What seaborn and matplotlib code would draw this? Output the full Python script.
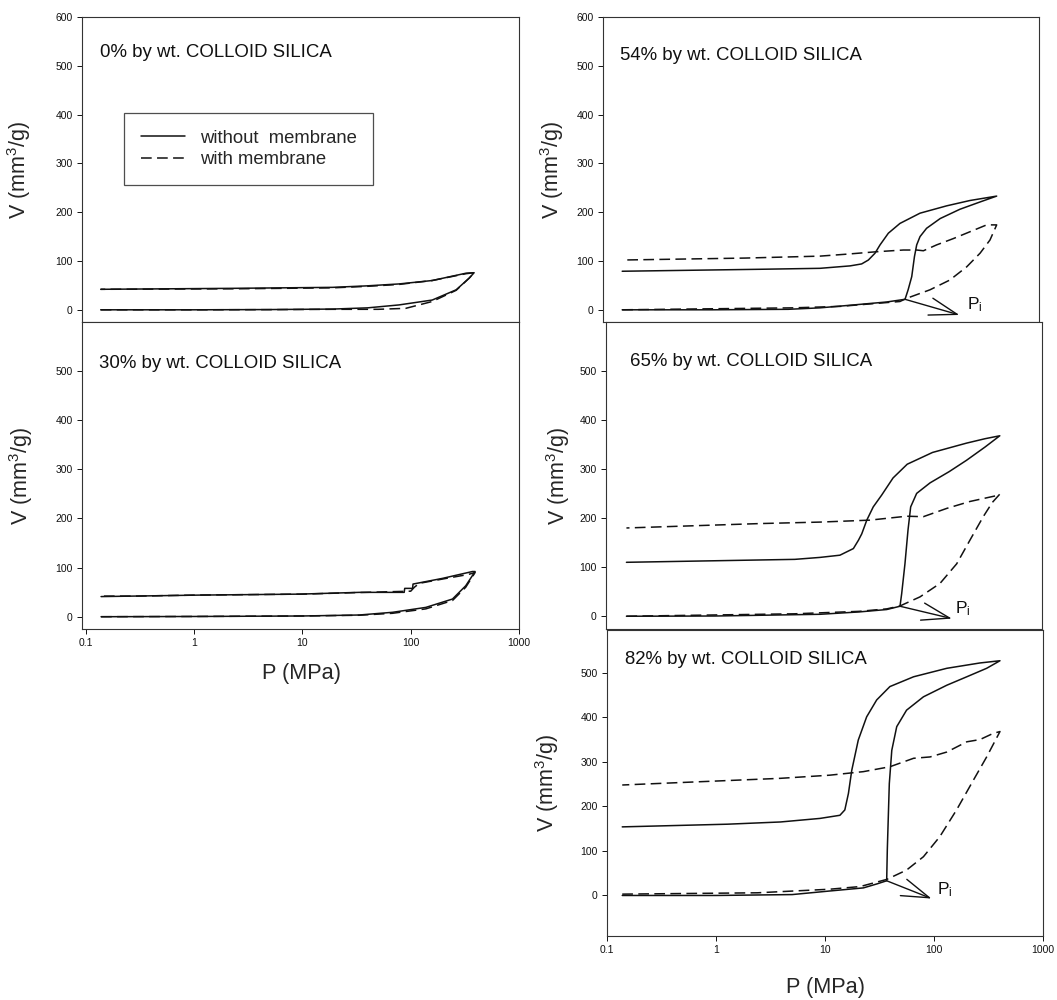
import matplotlib
matplotlib.use('Agg')
import matplotlib.pyplot as plt
from matplotlib.ticker import FixedLocator, NullLocator
import seaborn as sns

# ---- data (P in MPa, V in mm3/g), loop = intrusion then extrusion ----
P0_solid = [0.137, 1, 5, 19, 40, 78, 158, 263, 347, 385, 324, 158, 78, 39, 19, 2.3, 0.137]
V0_solid = [0, 0, 0.5, 1.5, 4, 10, 20, 41, 65, 76, 75, 60, 53, 49, 46, 44, 42]
P0_dash = [0.137, 1, 5, 19, 50, 90, 158, 263, 347, 385, 324, 158, 78, 39, 19, 2.3, 0.137]
V0_dash = [0, 0, 0.3, 1, 1, 3, 17, 40, 65, 76, 74, 60, 52, 48, 45, 43, 42]

P30_solid = [0.138, 1, 10, 33.5, 68, 138, 243, 322, 393,
             371, 196, 105, 104, 88, 87, 33.5, 9.4, 1.1, 0.138]
V30_solid = [0, 0.5, 1.5, 3.5, 9, 19, 36, 63, 92,
             92, 78, 66.5, 57.7, 57.7, 49.6, 49.6, 46, 44, 41]
P30_dash = [0.138, 1, 10, 33.5, 68, 138, 243, 322, 393,
            340, 200, 120, 108, 100, 30, 10, 1, 0.3, 0.138]
V30_dash = [0, 0.5, 1.5, 3, 7, 16, 33, 60, 90,
            86, 77, 68, 60, 52, 49, 46, 44, 42, 42]

P54_solid = [0.15, 1, 5, 9.8, 20, 40, 59, 63, 68, 72, 75.5, 81, 93, 124, 188, 288, 409,
             233, 142, 81, 53, 41.5, 34.8, 31.3, 27.2, 23.6, 18.5, 9.8, 2.7, 0.15]
V54_solid = [0, 0, 1, 4, 10, 16, 21.5, 41, 68, 109, 133, 150, 167, 187, 206, 221, 233,
             224, 213, 198, 177, 157, 133, 116, 102, 94, 90, 85, 83, 79]
P54_dash = [0.15, 5.5, 15, 28, 53, 61, 100, 152, 217, 288, 355, 409,
            331, 233, 164, 115, 87, 75.5, 57, 32.4, 17.2, 9.8, 2, 0.15]
V54_dash = [0, 4, 7, 12, 17, 23.5, 41, 61, 88, 116, 143, 174,
            174, 160, 146, 133, 121, 122.5, 122.5, 119, 114, 110, 106, 102]

P65_solid = [0.154, 1, 9.2, 21, 37.6, 49.8, 51.6, 55.3, 59, 62.4, 70.8, 94, 141, 203, 300, 410,
             300, 203, 99, 58, 43, 33.8, 28.3, 24.7, 22.2, 20.7, 18.6, 14, 9.2, 5.4, 0.154]
V65_solid = [0, 0.5, 4, 8.8, 13.7, 20.4, 46, 107, 176, 223, 250.5, 272, 295, 318, 345, 368,
             362, 353, 334, 310, 282, 247, 223, 196, 168, 155, 138, 124.5, 120, 116, 110]
P65_dash = [0.154, 5.4, 21, 37.6, 49.8, 76, 116, 165, 218, 289, 350, 410,
            384, 218, 134, 81.5, 57.4, 26.4, 9.2, 2.6, 0.154]
V65_dash = [0, 5, 10, 15, 21, 39.5, 67, 107, 155, 203, 232, 249,
            246, 234, 220, 203, 204, 196, 192, 189, 180]

P82_solid = [0.138, 1, 5, 11, 22.5, 30, 36.8, 37.3, 38.9, 41, 45.5, 56, 80, 131, 200, 304, 403,
             264, 131, 65, 39.4, 29.8, 24.1, 20.2, 17.6, 16.4, 15.2, 13.7, 9, 3.9, 1.27, 0.138]
V82_solid = [0, 0, 2, 10, 17, 26, 33, 103, 251, 326, 379, 416, 446, 472, 491, 510, 527,
             522, 510, 491, 469, 439, 401, 349, 281, 229, 192, 180, 173, 165, 160, 154]
P82_dash = [0.138, 2.4, 11, 21, 36.8, 56, 80, 113, 161, 230, 304, 403,
            350, 264, 200, 131, 92, 65, 39.4, 22.5, 11, 3.9, 0.138]
V82_dash = [3, 6, 14, 20, 36, 57, 87, 132, 192, 259, 311, 368,
            364, 350, 345, 322, 311, 308, 289, 278, 270, 263, 248]

# P_i arrows: (point on curve, arrow tip, label position)
PI_54 = [(59, 21.5), (186, -10.6), (217, 10)]
PI_65 = [(49.8, 20.4), (149, -4.8), (158, 15.7)]
PI_82 = [(36.8, 33), (95, -7), (106, 12)]

TITLES = ['0% by wt. COLLOID SILICA', '30% by wt. COLLOID SILICA',
          '54% by wt. COLLOID SILICA', '65% by wt. COLLOID SILICA',
          '82% by wt. COLLOID SILICA']
X_TICKS = [0.1, 1, 10, 100, 1000]
X_TICKLABELS = ['0.1', '1', '10', '100', '1000']

sns.set_theme(style='ticks')
plt.rcParams['font.family'] = ['Liberation Sans', 'DejaVu Sans']
plt.rcParams['mathtext.fontset'] = 'custom'
plt.rcParams['mathtext.rm'] = 'Liberation Sans'
plt.rcParams['mathtext.it'] = 'Liberation Sans'

DASH = (0, (7, 3.5))
LW = 1.1
INK = '#111111'

fig = plt.figure(figsize=(10.57, 10), dpi=100, facecolor='white')

rects = [
    [82 / 1057, 0.678, 437 / 1057, 0.305],
    [82 / 1057, 0.371, 437 / 1057, 0.307],
    [603 / 1057, 0.678, 436 / 1057, 0.305],
    [606 / 1057, 0.371, 436 / 1057, 0.307],
    [607 / 1057, 0.064, 436 / 1057, 0.306],
]
ylims = [(-25, 600), (-25, 600), (-25, 600), (-26, 600), (-91, 596)]
xlims = [(0.092, 1000), (0.092, 1000), (0.1, 1000), (0.1, 1000), (0.1, 1000)]
title_pos = [(0.041, 0.885), (0.039, 0.866), (0.039, 0.875), (0.054, 0.87), (0.041, 0.902)]
ylabel_x = [-0.112, -0.108, -0.085, -0.079, -0.105]
curves = [
    (P0_solid, V0_solid, P0_dash, V0_dash),
    (P30_solid, V30_solid, P30_dash, V30_dash),
    (P54_solid, V54_solid, P54_dash, V54_dash),
    (P65_solid, V65_solid, P65_dash, V65_dash),
    (P82_solid, V82_solid, P82_dash, V82_dash),
]
pis = [None, None, PI_54, PI_65, PI_82]
show_x = [False, True, False, False, True]

axes = []
for i, rect in enumerate(rects):
    ax = fig.add_axes(rect)
    ax.set_facecolor('white')
    ps, vs, pd_, vd = curves[i]
    first = i == 0
    sns.lineplot(x=ps, y=vs, sort=False, estimator=None, color=INK, lw=LW, ax=ax,
                 label='without  membrane' if first else None, legend=first)
    sns.lineplot(x=pd_, y=vd, sort=False, estimator=None, color=INK, lw=LW, ax=ax,
                 linestyle=DASH, label='with membrane' if first else None, legend=first)
    ax.set_xscale('log')
    ax.set_xlim(*xlims[i])
    ax.set_ylim(*ylims[i])
    ax.xaxis.set_minor_locator(NullLocator())
    if show_x[i]:
        ax.xaxis.set_major_locator(FixedLocator(X_TICKS))
        ax.set_xticklabels(X_TICKLABELS)
        ax.set_xlabel('P (MPa)', fontsize=15.7)
        ax.xaxis.set_label_coords(0.503 if i == 1 else 0.5, -0.11 if i == 1 else -0.134)
    else:
        ax.set_xticks([])
        ax.set_xlabel('')
    ax.set_yticks(range(0, 700 if i in (0, 2) else 600, 100))
    ax.set_ylabel('V (mm$^3$/g)', fontsize=15.5)
    ax.yaxis.set_label_coords(ylabel_x[i], 0.5)
    ax.tick_params(direction='out', length=3.6, width=0.7, pad=3.2,
                   labelsize=7.5, colors=INK)
    for sp in ax.spines.values():
        sp.set_visible(True)
        sp.set_linewidth(0.8)
        sp.set_color('#333333')
    tx, ty = title_pos[i]
    ax.text(tx, ty, TITLES[i], transform=ax.transAxes, fontsize=13.4,
            ha='left', va='center', color=INK)
    if pis[i] is not None:
        src, tip, lab = pis[i]
        ax.annotate('', xy=tip, xytext=src,
                    arrowprops=dict(arrowstyle='->,head_length=20,head_width=6.3',
                                    mutation_scale=1, shrinkA=0, shrinkB=0,
                                    color=INK, lw=1.0))
        ax.text(lab[0], lab[1], 'P$_\\mathregular{i}$', fontsize=12.5,
                ha='left', va='center', color=INK)
    axes.append(ax)

leg = axes[0].legend(loc='upper left', bbox_to_anchor=(0.096, 0.685), borderaxespad=0,
                     fontsize=13.3, frameon=True, fancybox=False, handlelength=2.4,
                     labelspacing=0.25, borderpad=0.9, handletextpad=0.8)
leg.get_frame().set_edgecolor('#222222')
leg.get_frame().set_linewidth(0.9)

fig.savefig('out.png', dpi=100, facecolor='white')
